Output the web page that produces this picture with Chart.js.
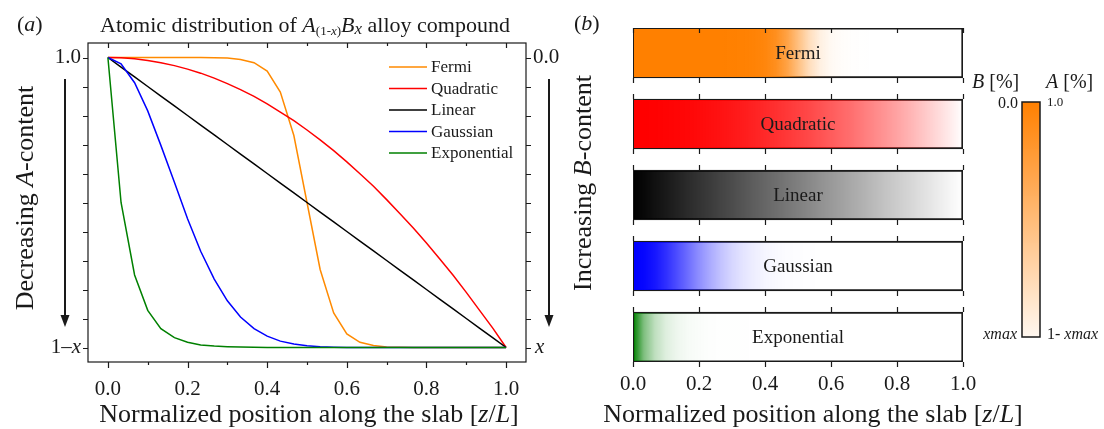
<!DOCTYPE html>
<html>
<head>
<meta charset="utf-8">
<script src="https://cdn.jsdelivr.net/npm/chart.js@4.4.1/dist/chart.umd.min.js"></script>
<style>
  body { margin: 0; background: #fff; }
  #wrap { position: relative; width: 1104px; height: 429px; }
  .panel { position: absolute; top: 0; height: 429px; }
</style>
</head>
<body>
<div id="wrap">
  <div class="panel" style="left:0;width:560px"><canvas id="chartA"></canvas></div>
  <div class="panel" style="left:560px;width:544px"><canvas id="chartB"></canvas></div>
</div>
<script>
// sample positions along the slab (z/L)
const positions = [0.000, 0.033, 0.067, 0.100, 0.133, 0.167, 0.200, 0.233, 0.267, 0.300, 0.333,
  0.367, 0.400, 0.433, 0.467, 0.500, 0.533, 0.567, 0.600, 0.633, 0.667,
  0.700, 0.733, 0.767, 0.800, 0.833, 0.867, 0.900, 0.933, 0.967, 1.000];

// A-content
const fermi = [1, 1, 1, 1, 1, 1, 1, 1, 0.999, 0.998, 0.993,
  0.982, 0.953, 0.881, 0.731, 0.5, 0.269, 0.119, 0.047, 0.018, 0.007,
  0.002, 0.001, 0, 0, 0, 0, 0, 0, 0, 0];
const quadratic = [1, 0.999, 0.996, 0.99, 0.982, 0.972, 0.96, 0.946, 0.929, 0.91, 0.889,
  0.866, 0.84, 0.812, 0.782, 0.75, 0.716, 0.679, 0.64, 0.599, 0.556,
  0.51, 0.462, 0.412, 0.36, 0.306, 0.249, 0.19, 0.129, 0.066, 0];
const linear = [1, 0.967, 0.933, 0.9, 0.867, 0.833, 0.8, 0.767, 0.733, 0.7, 0.667,
  0.633, 0.6, 0.567, 0.533, 0.5, 0.467, 0.433, 0.4, 0.367, 0.333,
  0.3, 0.267, 0.233, 0.2, 0.167, 0.133, 0.1, 0.067, 0.033, 0];
const gaussian = [1, 0.978, 0.913, 0.816, 0.697, 0.57, 0.444, 0.332, 0.236, 0.161, 0.105,
  0.065, 0.039, 0.022, 0.012, 0.006, 0.003, 0.001, 0, 0, 0,
  0, 0, 0, 0, 0, 0, 0, 0, 0, 0];
const exponential = [1, 0.5, 0.25, 0.128, 0.065, 0.034, 0.018, 0.009, 0.005, 0.003, 0.002,
  0.001, 0, 0, 0, 0, 0, 0, 0, 0, 0,
  0, 0, 0, 0, 0, 0, 0, 0, 0, 0];

const profileNames = ['Fermi', 'Quadratic', 'Linear', 'Gaussian', 'Exponential'];
const profiles = [fermi, quadratic, linear, gaussian, exponential];

const xTickValues = [0, 0.1, 0.2, 0.3, 0.4, 0.5, 0.6, 0.7, 0.8, 0.9, 1.0];
const xTickLabelsA = ['0.0', '', '0.2', '', '0.4', '', '0.6', '', '0.8', '', '1.0'];
const yTickValues = [0, 0.1, 0.2, 0.3, 0.4, 0.5, 0.6, 0.7, 0.8, 0.9, 1.0];
const xTickValuesB = [0, 0.2, 0.4, 0.6, 0.8, 1.0];
const xTickLabelsB = ['0.0', '0.2', '0.4', '0.6', '0.8', '1.0'];

// styles
const lineColors = ['#ff8a00', '#ff0000', '#000000', '#0000ff', '#008000'];
const barRGB = ['255,128,0', '255,0,0', '0,0,0', '0,0,255', '0,128,0'];
const serif = '"Liberation Serif", "Times New Roman", serif';
const ink = '#1a1a1a';

Chart.defaults.font.family = serif;
Chart.defaults.color = ink;

function font(size, italic) {
  return (italic ? 'italic ' : '') + size + 'px ' + serif;
}

// draw text made of several runs (for italic / subscript pieces)
function drawRuns(ctx, runs, x, y, align) {
  let w = 0;
  runs.forEach((r) => { ctx.font = r.f; w += ctx.measureText(r.t).width; });
  let cx = align === 'center' ? x - w / 2 : (align === 'right' ? x - w : x);
  ctx.textAlign = 'left';
  runs.forEach((r) => {
    ctx.font = r.f;
    ctx.fillText(r.t, cx, y + (r.dy || 0));
    cx += ctx.measureText(r.t).width;
  });
}

function arrow(ctx, x, y0, y1) {
  ctx.beginPath();
  ctx.moveTo(x, y0);
  ctx.lineTo(x, y1 - 10);
  ctx.lineWidth = 2;
  ctx.stroke();
  ctx.beginPath();
  ctx.moveTo(x - 4.5, y1 - 12);
  ctx.lineTo(x + 4.5, y1 - 12);
  ctx.lineTo(x, y1);
  ctx.closePath();
  ctx.fill();
}

const panelA = {
  id: 'panelA',
  afterDraw(chart) {
    const { ctx, chartArea: a } = chart;
    const x = chart.scales.x;
    const y = chart.scales.y;
    ctx.save();
    ctx.strokeStyle = ink;
    ctx.fillStyle = ink;
    ctx.lineWidth = 1.2;
    ctx.strokeRect(a.left, a.top, a.right - a.left, a.bottom - a.top);

    ctx.beginPath();
    xTickValues.forEach((v, i) => {
      const px = Math.round(x.getPixelForValue(v)) + 0.5;
      const major = xTickLabelsA[i] !== '';
      ctx.moveTo(px, a.bottom);
      ctx.lineTo(px, a.bottom + (major ? 6 : 3));
      ctx.moveTo(px, a.top);
      ctx.lineTo(px, a.top + (major ? 5 : 3));
    });
    yTickValues.forEach((v) => {
      const py = Math.round(y.getPixelForValue(v)) + 0.5;
      ctx.moveTo(a.left, py);
      ctx.lineTo(a.left - 5, py);
      ctx.moveTo(a.right, py);
      ctx.lineTo(a.right + 5, py);
    });
    ctx.stroke();

    // y labels
    ctx.textBaseline = 'middle';
    drawRuns(ctx, [{ t: '1.0', f: font(21) }], a.left - 7, y.getPixelForValue(1), 'right');
    drawRuns(ctx, [{ t: '1–', f: font(21) }, { t: 'x', f: font(21, true) }], a.left - 7, y.getPixelForValue(0), 'right');
    drawRuns(ctx, [{ t: '0.0', f: font(21) }], a.right + 7, y.getPixelForValue(1), 'left');
    drawRuns(ctx, [{ t: 'x', f: font(21, true) }], a.right + 9, y.getPixelForValue(0), 'left');

    // legend
    ctx.lineWidth = 1.5;
    chart.data.datasets.forEach((ds, i) => {
      const ly = 67 + i * 21.5;
      ctx.strokeStyle = ds.borderColor;
      ctx.beginPath();
      ctx.moveTo(389, ly);
      ctx.lineTo(427, ly);
      ctx.stroke();
      ctx.fillStyle = ink;
      drawRuns(ctx, [{ t: ds.label, f: font(17) }], 431, ly + 1, 'left');
    });

    // titles
    ctx.fillStyle = ink;
    ctx.strokeStyle = ink;
    ctx.textBaseline = 'alphabetic';
    drawRuns(ctx, [{ t: '(', f: font(22) }, { t: 'a', f: font(22, true) }, { t: ')', f: font(22) }], 17, 31, 'left');
    drawRuns(ctx, [
      { t: 'Atomic distribution of ', f: font(22) },
      { t: 'A', f: font(22, true) },
      { t: '(1-', f: font(13), dy: 3 },
      { t: 'x', f: font(13, true), dy: 3 },
      { t: ')', f: font(13), dy: 3 },
      { t: 'B', f: font(22, true) },
      { t: 'x', f: font(17, true), dy: 2 },
      { t: ' alloy compound', f: font(22) },
    ], 305, 32, 'center');
    drawRuns(ctx, [
      { t: 'Normalized position along the slab [', f: font(26) },
      { t: 'z', f: font(26, true) },
      { t: '/', f: font(26) },
      { t: 'L', f: font(26, true) },
      { t: ']', f: font(26) },
    ], 309, 422, 'center');

    ctx.save();
    ctx.translate(33, 198);
    ctx.rotate(-Math.PI / 2);
    drawRuns(ctx, [
      { t: 'Decreasing ', f: font(26) },
      { t: 'A', f: font(26, true) },
      { t: '-content', f: font(26) },
    ], 0, 0, 'center');
    ctx.restore();

    arrow(ctx, 65, 79, 327);
    arrow(ctx, 549, 79, 327);
    ctx.restore();
  },
};

new Chart(document.getElementById('chartA'), {
  type: 'line',
  data: {
    datasets: profiles.map((p, i) => ({
      label: profileNames[i],
      data: positions.map((z, k) => ({ x: z, y: p[k] })),
      borderColor: lineColors[i],
      borderWidth: 1.5,
      pointRadius: 0,
      tension: 0,
      order: profiles.length - i,
    })),
  },
  options: {
    responsive: true,
    maintainAspectRatio: false,
    animation: false,
    layout: { padding: { left: 88, right: 34, top: 43, bottom: 0 } },
    plugins: { legend: { display: false }, tooltip: { enabled: false } },
    scales: {
      x: {
        type: 'linear',
        min: -0.05,
        max: 1.05,
        afterBuildTicks: (s) => { s.ticks = xTickValues.map((v) => ({ value: v })); },
        afterFit: (s) => { s.height = 67; },
        grid: { display: false },
        border: { display: false },
        ticks: {
          autoSkip: false,
          maxRotation: 0,
          padding: 7,
          font: { size: 21 },
          callback: (v, i) => xTickLabelsA[i],
        },
      },
      y: { type: 'linear', min: -0.05, max: 1.05, display: false },
    },
  },
  plugins: [panelA],
});

// colour of each slab in panel (b) follows its profile
function barFill(context) {
  const chart = context.chart;
  if (!chart.chartArea || context.type !== 'data') return 'rgba(0,0,0,0)';
  const i = context.dataIndex;
  const xs = chart.scales.x;
  const g = chart.ctx.createLinearGradient(xs.getPixelForValue(0), 0, xs.getPixelForValue(1), 0);
  profiles[i].forEach((v, k) => g.addColorStop(positions[k], 'rgba(' + barRGB[i] + ',' + v + ')'));
  return g;
}

const panelB = {
  id: 'panelB',
  afterDraw(chart) {
    const { ctx, chartArea: a } = chart;
    const x = chart.scales.x;
    const y = chart.scales.y;
    ctx.save();
    ctx.strokeStyle = ink;
    ctx.fillStyle = ink;
    ctx.lineWidth = 1.2;

    // ticks on every slab
    ctx.beginPath();
    profileNames.forEach((n, i) => {
      const top = y.getPixelForValue(i) - 25;
      const bot = y.getPixelForValue(i) + 25;
      xTickValuesB.forEach((v) => {
        const px = Math.round(x.getPixelForValue(v)) + 0.5;
        if (i === 0) { ctx.moveTo(px, top); ctx.lineTo(px, top + 5); } else { ctx.moveTo(px, top); ctx.lineTo(px, top - 5); }
        ctx.moveTo(px, bot);
        ctx.lineTo(px, bot + 5);
      });
    });
    ctx.stroke();

    ctx.textBaseline = 'middle';
    profileNames.forEach((n, i) => {
      drawRuns(ctx, [{ t: n, f: font(19) }], x.getPixelForValue(0.5), y.getPixelForValue(i) + 1, 'center');
    });

    ctx.textBaseline = 'alphabetic';
    drawRuns(ctx, [{ t: '(', f: font(22) }, { t: 'b', f: font(22, true) }, { t: ')', f: font(22) }], 14, 30, 'left');
    drawRuns(ctx, [
      { t: 'Normalized position along the slab [', f: font(26) },
      { t: 'z', f: font(26, true) },
      { t: '/', f: font(26) },
      { t: 'L', f: font(26, true) },
      { t: ']', f: font(26) },
    ], 253, 422, 'center');

    ctx.save();
    ctx.translate(31, 183);
    ctx.rotate(-Math.PI / 2);
    drawRuns(ctx, [
      { t: 'Increasing ', f: font(26) },
      { t: 'B', f: font(26, true) },
      { t: '-content', f: font(26) },
    ], 0, 0, 'center');
    ctx.restore();

    // colour bar
    const cbL = 462, cbR = 480, cbT = 102, cbB = 337;
    const g = ctx.createLinearGradient(0, cbT, 0, cbB);
    g.addColorStop(0, 'rgba(255,128,0,1)');
    g.addColorStop(1, 'rgba(255,128,0,0.06)');
    ctx.fillStyle = g;
    ctx.fillRect(cbL, cbT, cbR - cbL, cbB - cbT);
    ctx.lineWidth = 1.5;
    ctx.strokeRect(cbL, cbT, cbR - cbL, cbB - cbT);
    ctx.fillStyle = ink;
    drawRuns(ctx, [{ t: 'B', f: font(20, true) }, { t: ' [%]', f: font(20) }], 412, 88, 'left');
    drawRuns(ctx, [{ t: 'A', f: font(20, true) }, { t: ' [%]', f: font(20) }], 486, 88, 'left');
    ctx.textBaseline = 'middle';
    drawRuns(ctx, [{ t: '0.0', f: font(16) }], 458, 104, 'right');
    drawRuns(ctx, [{ t: '1.0', f: font(13) }], 487, 103, 'left');
    drawRuns(ctx, [{ t: 'xmax', f: font(16, true) }], 457, 335, 'right');
    drawRuns(ctx, [{ t: '1- ', f: font(16) }, { t: 'xmax', f: font(16, true) }], 487, 335, 'left');
    ctx.restore();
  },
};

new Chart(document.getElementById('chartB'), {
  type: 'bar',
  data: {
    datasets: [{
      label: 'slabs',
      data: profileNames.map((n, i) => ({ x: [0, 1], y: i })),
      backgroundColor: barFill,
      borderColor: ink,
      borderWidth: 1.3,
      borderSkipped: false,
      barThickness: 50,
    }],
  },
  options: {
    indexAxis: 'y',
    responsive: true,
    maintainAspectRatio: false,
    animation: false,
    layout: { padding: { left: 73, right: 141, top: 28, bottom: 0 } },
    plugins: { legend: { display: false }, tooltip: { enabled: false } },
    scales: {
      x: {
        type: 'linear',
        min: 0,
        max: 1,
        afterBuildTicks: (s) => { s.ticks = xTickValuesB.map((v) => ({ value: v })); },
        afterFit: (s) => { s.height = 67; },
        grid: { display: false },
        border: { display: false },
        ticks: {
          autoSkip: false,
          maxRotation: 0,
          padding: 2,
          font: { size: 21 },
          callback: (v, i) => xTickLabelsB[i],
        },
      },
      y: { type: 'linear', min: -0.352, max: 4.352, reverse: true, offset: false, display: false },
    },
  },
  plugins: [panelB],
});
</script>
</body>
</html>
